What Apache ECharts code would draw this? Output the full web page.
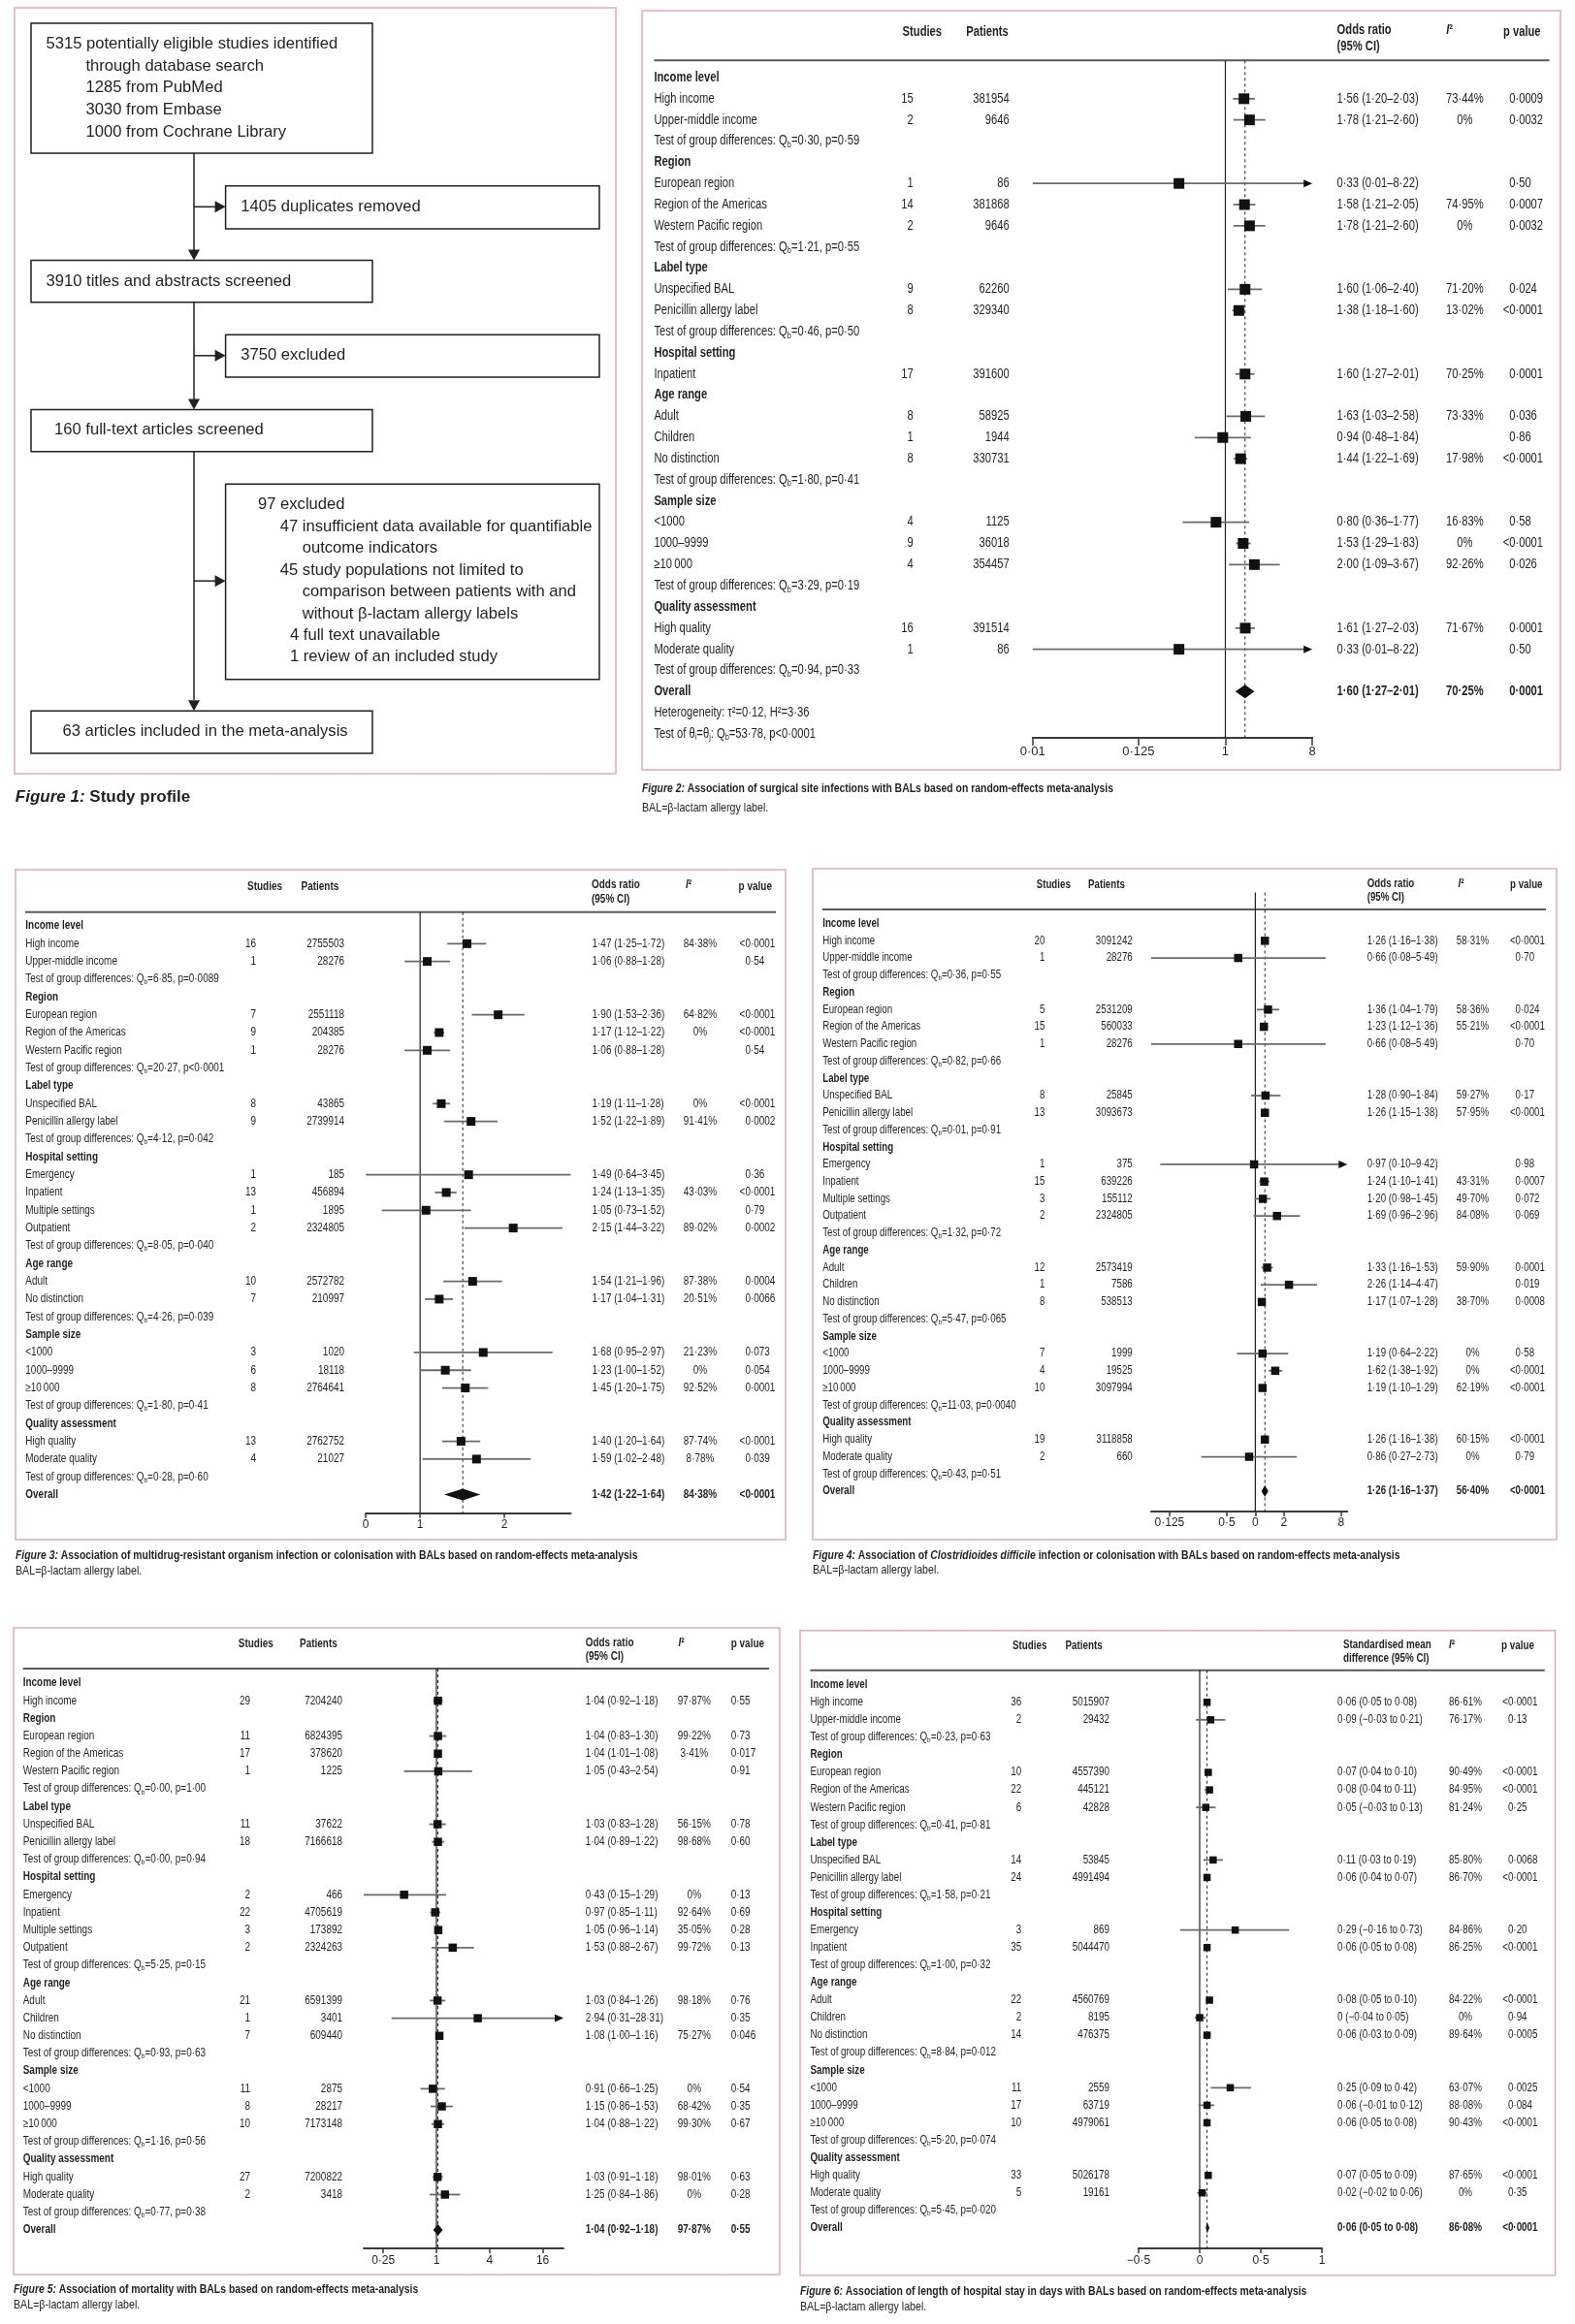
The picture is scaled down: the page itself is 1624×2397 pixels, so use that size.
<!DOCTYPE html>
<html><head><meta charset="utf-8">
<script src="https://cdn.jsdelivr.net/npm/echarts@6/dist/echarts.min.js"></script>
<style>html,body{margin:0;padding:0;background:#fff}#main{width:1624px;height:2397px}</style>
</head><body><div id="main"></div>
<script>
// ---------------- DATA ----------------
const flowTopLines = ['5315 potentially eligible studies identified', 'through database search', '1285 from PubMed', '3030 from Embase', '1000 from Cochrane Library'];
const flowSteps = ['3910 titles and abstracts screened', '160 full-text articles screened', '63 articles included in the meta-analysis'];
const flowRemoved = ['1405 duplicates removed', '3750 excluded'];
const flowExclLines = ['97 excluded', '47 insufficient data available for quantifiable', 'outcome indicators', '45 study populations not limited to', 'comparison between patients with and', 'without β-lactam allergy labels', '4 full text unavailable', '1 review of an included study'];

// row kinds: g = group heading, r = result, t = test/note text, o = overall
const fig2Rows = [
 ['g','Income level'],
 ['r','High income',15,381954,1.56,1.20,2.03,'73·44%','0·0009'],
 ['r','Upper-middle income',2,9646,1.78,1.21,2.60,'0%','0·0032'],
 ['t','Test of group differences: Q{s|b}=0·30, p=0·59'],
 ['g','Region'],
 ['r','European region',1,86,0.33,0.01,8.22,'','0·50'],
 ['r','Region of the Americas',14,381868,1.58,1.21,2.05,'74·95%','0·0007'],
 ['r','Western Pacific region',2,9646,1.78,1.21,2.60,'0%','0·0032'],
 ['t','Test of group differences: Q{s|b}=1·21, p=0·55'],
 ['g','Label type'],
 ['r','Unspecified BAL',9,62260,1.60,1.06,2.40,'71·20%','0·024'],
 ['r','Penicillin allergy label',8,329340,1.38,1.18,1.60,'13·02%','<0·0001'],
 ['t','Test of group differences: Q{s|b}=0·46, p=0·50'],
 ['g','Hospital setting'],
 ['r','Inpatient',17,391600,1.60,1.27,2.01,'70·25%','0·0001'],
 ['g','Age range'],
 ['r','Adult',8,58925,1.63,1.03,2.58,'73·33%','0·036'],
 ['r','Children',1,1944,0.94,0.48,1.84,'','0·86'],
 ['r','No distinction',8,330731,1.44,1.22,1.69,'17·98%','<0·0001'],
 ['t','Test of group differences: Q{s|b}=1·80, p=0·41'],
 ['g','Sample size'],
 ['r','<1000',4,1125,0.80,0.36,1.77,'16·83%','0·58'],
 ['r','1000–9999',9,36018,1.53,1.29,1.83,'0%','<0·0001'],
 ['r','≥10\u2009000',4,354457,2.00,1.09,3.67,'92·26%','0·026'],
 ['t','Test of group differences: Q{s|b}=3·29, p=0·19'],
 ['g','Quality assessment'],
 ['r','High quality',16,391514,1.61,1.27,2.03,'71·67%','0·0001'],
 ['r','Moderate quality',1,86,0.33,0.01,8.22,'','0·50'],
 ['t','Test of group differences: Q{s|b}=0·94, p=0·33'],
 ['o','Overall',null,null,1.60,1.27,2.01,'70·25%','0·0001'],
 ['t','Heterogeneity: τ²=0·12, H²=3·36'],
 ['t','Test of θ{s|i}=θ{s|j}: Q{s|b}=53·78, p<0·0001']
];
const fig3Rows = [
 ['g','Income level'],
 ['r','High income',16,2755503,1.47,1.25,1.72,'84·38%','<0·0001'],
 ['r','Upper-middle income',1,28276,1.06,0.88,1.28,'','0·54'],
 ['t','Test of group differences: Q{s|b}=6·85, p=0·0089'],
 ['g','Region'],
 ['r','European region',7,2551118,1.90,1.53,2.36,'64·82%','<0·0001'],
 ['r','Region of the Americas',9,204385,1.17,1.12,1.22,'0%','<0·0001'],
 ['r','Western Pacific region',1,28276,1.06,0.88,1.28,'','0·54'],
 ['t','Test of group differences: Q{s|b}=20·27, p<0·0001'],
 ['g','Label type'],
 ['r','Unspecified BAL',8,43865,1.19,1.11,1.28,'0%','<0·0001'],
 ['r','Penicillin allergy label',9,2739914,1.52,1.22,1.89,'91·41%','0·0002'],
 ['t','Test of group differences: Q{s|b}=4·12, p=0·042'],
 ['g','Hospital setting'],
 ['r','Emergency',1,185,1.49,0.64,3.45,'','0·36'],
 ['r','Inpatient',13,456894,1.24,1.13,1.35,'43·03%','<0·0001'],
 ['r','Multiple settings',1,1895,1.05,0.73,1.52,'','0·79'],
 ['r','Outpatient',2,2324805,2.15,1.44,3.22,'89·02%','0·0002'],
 ['t','Test of group differences: Q{s|b}=8·05, p=0·040'],
 ['g','Age range'],
 ['r','Adult',10,2572782,1.54,1.21,1.96,'87·38%','0·0004'],
 ['r','No distinction',7,210997,1.17,1.04,1.31,'20·51%','0·0066'],
 ['t','Test of group differences: Q{s|b}=4·26, p=0·039'],
 ['g','Sample size'],
 ['r','<1000',3,1020,1.68,0.95,2.97,'21·23%','0·073'],
 ['r','1000–9999',6,18118,1.23,1.00,1.52,'0%','0·054'],
 ['r','≥10\u2009000',8,2764641,1.45,1.20,1.75,'92·52%','0·0001'],
 ['t','Test of group differences: Q{s|b}=1·80, p=0·41'],
 ['g','Quality assessment'],
 ['r','High quality',13,2762752,1.40,1.20,1.64,'87·74%','<0·0001'],
 ['r','Moderate quality',4,21027,1.59,1.02,2.48,'8·78%','0·039'],
 ['t','Test of group differences: Q{s|b}=0·28, p=0·60'],
 ['o','Overall',null,null,1.42,1.22,1.64,'84·38%','<0·0001']
];
const fig4Rows = [
 ['g','Income level'],
 ['r','High income',20,3091242,1.26,1.16,1.38,'58·31%','<0·0001'],
 ['r','Upper-middle income',1,28276,0.66,0.08,5.49,'','0·70'],
 ['t','Test of group differences: Q{s|b}=0·36, p=0·55'],
 ['g','Region'],
 ['r','European region',5,2531209,1.36,1.04,1.79,'58·36%','0·024'],
 ['r','Region of the Americas',15,560033,1.23,1.12,1.36,'55·21%','<0·0001'],
 ['r','Western Pacific region',1,28276,0.66,0.08,5.49,'','0·70'],
 ['t','Test of group differences: Q{s|b}=0·82, p=0·66'],
 ['g','Label type'],
 ['r','Unspecified BAL',8,25845,1.28,0.90,1.84,'59·27%','0·17'],
 ['r','Penicillin allergy label',13,3093673,1.26,1.15,1.38,'57·95%','<0·0001'],
 ['t','Test of group differences: Q{s|b}=0·01, p=0·91'],
 ['g','Hospital setting'],
 ['r','Emergency',1,375,0.97,0.10,9.42,'','0·98'],
 ['r','Inpatient',15,639226,1.24,1.10,1.41,'43·31%','0·0007'],
 ['r','Multiple settings',3,155112,1.20,0.98,1.45,'49·70%','0·072'],
 ['r','Outpatient',2,2324805,1.69,0.96,2.96,'84·08%','0·069'],
 ['t','Test of group differences: Q{s|b}=1·32, p=0·72'],
 ['g','Age range'],
 ['r','Adult',12,2573419,1.33,1.16,1.53,'59·90%','0·0001'],
 ['r','Children',1,7586,2.26,1.14,4.47,'','0·019'],
 ['r','No distinction',8,538513,1.17,1.07,1.28,'38·70%','0·0008'],
 ['t','Test of group differences: Q{s|b}=5·47, p=0·065'],
 ['g','Sample size'],
 ['r','<1000',7,1999,1.19,0.64,2.22,'0%','0·58'],
 ['r','1000–9999',4,19525,1.62,1.38,1.92,'0%','<0·0001'],
 ['r','≥10\u2009000',10,3097994,1.19,1.10,1.29,'62·19%','<0·0001'],
 ['t','Test of group differences: Q{s|b}=11·03, p=0·0040'],
 ['g','Quality assessment'],
 ['r','High quality',19,3118858,1.26,1.16,1.38,'60·15%','<0·0001'],
 ['r','Moderate quality',2,660,0.86,0.27,2.73,'0%','0·79'],
 ['t','Test of group differences: Q{s|b}=0·43, p=0·51'],
 ['o','Overall',null,null,1.26,1.16,1.37,'56·40%','<0·0001']
];
const fig5Rows = [
 ['g','Income level'],
 ['r','High income',29,7204240,1.04,0.92,1.18,'97·87%','0·55'],
 ['g','Region'],
 ['r','European region',11,6824395,1.04,0.83,1.30,'99·22%','0·73'],
 ['r','Region of the Americas',17,378620,1.04,1.01,1.08,'3·41%','0·017'],
 ['r','Western Pacific region',1,1225,1.05,0.43,2.54,'','0·91'],
 ['t','Test of group differences: Q{s|b}=0·00, p=1·00'],
 ['g','Label type'],
 ['r','Unspecified BAL',11,37622,1.03,0.83,1.28,'56·15%','0·78'],
 ['r','Penicillin allergy label',18,7166618,1.04,0.89,1.22,'98·68%','0·60'],
 ['t','Test of group differences: Q{s|b}=0·00, p=0·94'],
 ['g','Hospital setting'],
 ['r','Emergency',2,466,0.43,0.15,1.29,'0%','0·13'],
 ['r','Inpatient',22,4705619,0.97,0.85,1.11,'92·64%','0·69'],
 ['r','Multiple settings',3,173892,1.05,0.96,1.14,'35·05%','0·28'],
 ['r','Outpatient',2,2324263,1.53,0.88,2.67,'99·72%','0·13'],
 ['t','Test of group differences: Q{s|b}=5·25, p=0·15'],
 ['g','Age range'],
 ['r','Adult',21,6591399,1.03,0.84,1.26,'98·18%','0·76'],
 ['r','Children',1,3401,2.94,0.31,28.31,'','0·35'],
 ['r','No distinction',7,609440,1.08,1.00,1.16,'75·27%','0·046'],
 ['t','Test of group differences: Q{s|b}=0·93, p=0·63'],
 ['g','Sample size'],
 ['r','<1000',11,2875,0.91,0.66,1.25,'0%','0·54'],
 ['r','1000–9999',8,28217,1.15,0.86,1.53,'68·42%','0·35'],
 ['r','≥10\u2009000',10,7173148,1.04,0.88,1.22,'99·30%','0·67'],
 ['t','Test of group differences: Q{s|b}=1·16, p=0·56'],
 ['g','Quality assessment'],
 ['r','High quality',27,7200822,1.03,0.91,1.18,'98·01%','0·63'],
 ['r','Moderate quality',2,3418,1.25,0.84,1.86,'0%','0·28'],
 ['t','Test of group differences: Q{s|b}=0·77, p=0·38'],
 ['o','Overall',null,null,1.04,0.92,1.18,'97·87%','0·55']
];
const fig6Rows = [
 ['g','Income level'],
 ['r','High income',36,5015907,0.06,0.05,0.08,'86·61%','<0·0001'],
 ['r','Upper-middle income',2,29432,0.09,-0.03,0.21,'76·17%','0·13'],
 ['t','Test of group differences: Q{s|b}=0·23, p=0·63'],
 ['g','Region'],
 ['r','European region',10,4557390,0.07,0.04,0.10,'90·49%','<0·0001'],
 ['r','Region of the Americas',22,445121,0.08,0.04,0.11,'84·95%','<0·0001'],
 ['r','Western Pacific region',6,42828,0.05,-0.03,0.13,'81·24%','0·25'],
 ['t','Test of group differences: Q{s|b}=0·41, p=0·81'],
 ['g','Label type'],
 ['r','Unspecified BAL',14,53845,0.11,0.03,0.19,'85·80%','0·0068'],
 ['r','Penicillin allergy label',24,4991494,0.06,0.04,0.07,'86·70%','<0·0001'],
 ['t','Test of group differences: Q{s|b}=1·58, p=0·21'],
 ['g','Hospital setting'],
 ['r','Emergency',3,869,0.29,-0.16,0.73,'84·86%','0·20'],
 ['r','Inpatient',35,5044470,0.06,0.05,0.08,'86·25%','<0·0001'],
 ['t','Test of group differences: Q{s|b}=1·00, p=0·32'],
 ['g','Age range'],
 ['r','Adult',22,4560769,0.08,0.05,0.10,'84·22%','<0·0001'],
 ['r','Children',2,8195,0,-0.04,0.05,'0%','0·94'],
 ['r','No distinction',14,476375,0.06,0.03,0.09,'89·64%','0·0005'],
 ['t','Test of group differences: Q{s|b}=8·84, p=0·012'],
 ['g','Sample size'],
 ['r','<1000',11,2559,0.25,0.09,0.42,'63·07%','0·0025'],
 ['r','1000–9999',17,63719,0.06,-0.01,0.12,'88·08%','0·084'],
 ['r','≥10\u2009000',10,4979061,0.06,0.05,0.08,'90·43%','<0·0001'],
 ['t','Test of group differences: Q{s|b}=5·20, p=0·074'],
 ['g','Quality assessment'],
 ['r','High quality',33,5026178,0.07,0.05,0.09,'87·65%','<0·0001'],
 ['r','Moderate quality',5,19161,0.02,-0.02,0.06,'0%','0·35'],
 ['t','Test of group differences: Q{s|b}=5·45, p=0·020'],
 ['o','Overall',null,null,0.06,0.05,0.08,'86·08%','<0·0001']
];

const fig2Range = [0.01, 8];
const fig2Ticks = [0.01, 0.125, 1, 8];
const fig2TickLabels = ['0·01', '0·125', '1', '8'];
const fig3Range = [0.64, 3.45];
const fig3Ticks = [0.64, 1, 2];
const fig3TickLabels = ['0', '1', '2'];
const fig4Range = [0.08, 9.3];
const fig4Ticks = [0.125, 0.5, 1, 2, 8];
const fig4TickLabels = ['0·125', '0·5', '0', '2', '8'];
const fig5Range = [0.15, 27.5];
const fig5Ticks = [0.25, 1, 4, 16];
const fig5TickLabels = ['0·25', '1', '4', '16'];
const fig6Range = [-0.5, 1];
const fig6Ticks = [-0.5, 0, 0.5, 1];
const fig6TickLabels = ['−0·5', '0', '0·5', '1'];

const fig2Caption = ['{fi|Figure 2:} Association of surgical site infections with BALs based on random-effects meta-analysis', 'BAL=β-lactam allergy label.'];
const fig3Caption = ['{fi|Figure 3:} Association of multidrug-resistant organism infection or colonisation with BALs based on random-effects meta-analysis', 'BAL=β-lactam allergy label.'];
const fig4Caption = ['{fi|Figure 4:} Association of {fi|Clostridioides difficile} infection or colonisation with BALs based on random-effects meta-analysis', 'BAL=β-lactam allergy label.'];
const fig5Caption = ['{fi|Figure 5:} Association of mortality with BALs based on random-effects meta-analysis', 'BAL=β-lactam allergy label.'];
const fig6Caption = ['{fi|Figure 6:} Association of length of hospital stay in days with BALs based on random-effects meta-analysis', 'BAL=β-lactam allergy label.'];
const fig1Caption = '{fi|Figure 1:} Study profile';

// ---------------- STYLE / LAYOUT ----------------
const INK = '#231f20';
const FONT = "'Liberation Sans', Arial, sans-serif";
const NARROW = "'Liberation Sans Narrow', 'Liberation Sans', Arial, sans-serif";
const PINK = '#e6a9b8';

// wrap plain segments of a rich string so they keep the element's font
function richify(text) {
  if (text.indexOf('{') < 0) return text;
  return text.split(/(\{[a-z]+\|[^}]*\})/).map(seg => seg === '' ? '' : (seg[0] === '{' ? seg : '{n|' + seg + '}')).join('');
}

function mkText(x, y, text, o) {
  const fs = o.fs, ff = o.ff || FONT, fw = o.fw || 'normal', fst = o.fst || 'normal';
  return {
    type: 'text', x: x, y: y, scaleX: o.sx || 1, silent: true, z: 10,
    style: {
      text: richify(text), x: 0, y: 0, fill: INK, fontFamily: ff, fontSize: fs, fontWeight: fw,
      fontStyle: fst, align: o.align || 'left', verticalAlign: 'middle',
      lineHeight: fs * 1.2,
      rich: {
        n: { fontFamily: ff, fontSize: fs, fontWeight: fw, fontStyle: fst, fill: INK, lineHeight: fs * 1.2 },
        s: { fontFamily: ff, fontSize: fs * 0.66, fontWeight: fw, fill: INK, lineHeight: fs * 0.7, verticalAlign: 'bottom' },
        it: { fontFamily: ff, fontSize: fs, fontWeight: fw, fontStyle: 'italic', fill: INK, lineHeight: fs * 1.2 },
        fi: { fontFamily: ff, fontSize: fs, fontWeight: 'bold', fontStyle: 'italic', fill: INK, lineHeight: fs * 1.2 }
      }
    }
  };
}

const figs = [
 { rows: fig2Rows, range: fig2Range, ticks: fig2Ticks, tickLabels: fig2TickLabels, log: true, smd: false, caption: fig2Caption, ciHead: ['Odds ratio', '(95% CI)'],
   L: { firstY: 80, step: 21.84, topY: 62.3, vTop: 62.3, axisY: 761, fLeft: 1064.8, fRight: 1353.2, fs: 14, sx: 0.8, sq: 11, dia: 7,
        tickFs: 13, tickMargin: 8, tickLen: 8,
        cols: { label: 674.4, studies: 941.7, patients: 1040.7, ci: 1378.6, i2: 1510.4, p: 1556.2 },
        hdr: { studies: [930.6, 32.7], patients: [996.2, 32.7], ci1: [1378.6, 30.7], ci2: [1378.6, 48.3], i2: [1491.2, 30.7], p: [1550, 32.7] },
        line: [674.4, 1597.6, 62.3], border: [662, 11, 1609, 794], cap: [662, 813, 833] } },
 { rows: fig3Rows, range: fig3Range, ticks: fig3Ticks, tickLabels: fig3TickLabels, log: true, smd: false, caption: fig3Caption, ciHead: ['Odds ratio', '(95% CI)'],
   L: { firstY: 955, step: 18.33, topY: 940.8, vTop: 940.8, axisY: 1560.7, fLeft: 377.2, fRight: 588.5, fs: 12, sx: 0.83, sq: 9, dia: 6,
        tickFs: 12, tickMargin: 6, tickLen: 5,
        cols: { label: 26.3, studies: 264, patients: 355, ci: 610.5, i2: 722, p: 768.4 },
        hdr: { studies: [255, 914.5], patients: [310.5, 914.5], ci1: [610, 913], ci2: [610, 927.6], i2: [707, 913], p: [761.6, 914.5] },
        line: [26, 800, 940.8], border: [16, 897, 810, 1588], cap: [16, 1604, 1620] } },
 { rows: fig4Rows, range: fig4Range, ticks: fig4Ticks, tickLabels: fig4TickLabels, log: true, smd: false, caption: fig4Caption, ciHead: ['Odds ratio', '(95% CI)'],
   L: { firstY: 952.6, step: 17.74, topY: 938, vTop: 920.5, axisY: 1559, fLeft: 1186.9, fRight: 1389.3, fs: 12, sx: 0.81, sq: 8.5, dia: 6,
        tickFs: 12, tickMargin: 6, tickLen: 5,
        cols: { label: 848.2, studies: 1077.4, patients: 1167.7, ci: 1409.7, i2: 1518.5, p: 1562.6 },
        hdr: { studies: [1068.7, 913], patients: [1122, 913], ci1: [1409.7, 912], ci2: [1409.7, 925.6], i2: [1503.6, 912], p: [1557, 913] },
        line: [848, 1594, 938], border: [838, 896, 1605, 1588], cap: [838, 1604, 1619] } },
 { rows: fig5Rows, range: fig5Range, ticks: fig5Ticks, tickLabels: fig5TickLabels, log: true, smd: false, caption: fig5Caption, ciHead: ['Odds ratio', '(95% CI)'],
   L: { firstY: 1736, step: 18.19, topY: 1721, vTop: 1721, axisY: 2319, fLeft: 375, fRight: 581, fs: 12, sx: 0.83, sq: 8.5, dia: 6,
        tickFs: 12, tickMargin: 6.5, tickLen: 5,
        cols: { label: 23.7, studies: 258, patients: 353, ci: 603.7, i2: 715.8, p: 753.7 },
        hdr: { studies: [245.8, 1696], patients: [309, 1696], ci1: [603.7, 1694.3], ci2: [603.7, 1709], i2: [699.5, 1694.3], p: [753.7, 1696] },
        line: [23.7, 793, 1721], border: [14, 1679, 804, 2346], cap: [14, 2361.7, 2377.7] } },
 { rows: fig6Rows, range: fig6Range, ticks: fig6Ticks, tickLabels: fig6TickLabels, log: false, smd: true, caption: fig6Caption, ciHead: ['Standardised mean', 'difference (95% CI)'],
   L: { firstY: 1737.7, step: 18.07, topY: 1722.7, vTop: 1722.7, axisY: 2319, fLeft: 1173.9, fRight: 1363.2, fs: 12, sx: 0.82, sq: 7.5, dia: 6,
        tickFs: 12, tickMargin: 6.5, tickLen: 5,
        cols: { label: 835.4, studies: 1053.3, patients: 1144, ci: 1379, i2: 1511, p: 1554.9 },
        hdr: { studies: [1044, 1698], patients: [1098.5, 1698], ci1: [1385, 1696.7], ci2: [1385, 1710.7], i2: [1494, 1696.7], p: [1548, 1698] },
        line: [835.4, 1592.8, 1722.7], border: [825, 1681.7, 1603.6, 2346.7], cap: [825, 2363, 2379] } }
];

const fmt = v => v === 0 ? '0' : (v < 0 ? '−' : '') + Math.abs(v).toFixed(2).replace('.', '·');

// ---------------- BUILD ----------------
const grids = [], xAxes = [], yAxes = [], series = [], gfx = [];

figs.forEach((f, k) => {
  const L = f.L;
  const Tf = f.log ? Math.log2 : (v => v);
  const idx = py => (py - L.firstY) / L.step;
  const yMin = idx(L.vTop), yMax = idx(L.axisY);
  const gTop = L.vTop, gH = L.axisY - L.vTop;
  const xr0 = Tf(f.range[0]), xr1 = Tf(f.range[1]);
  const gi = grids.length;
  grids.push({ left: 0, width: 1624, top: gTop, height: gH, outerBoundsMode: 'none', containLabel: false });
  grids.push({ left: L.fLeft, width: L.fRight - L.fLeft, top: gTop, height: gH, outerBoundsMode: 'none', containLabel: false });
  xAxes.push({ gridIndex: gi, type: 'value', min: 0, max: 1624, show: false });
  yAxes.push({ gridIndex: gi, type: 'value', inverse: true, min: yMin, max: yMax, show: false });
  const tickT = f.ticks.map(Tf);
  xAxes.push({
    gridIndex: gi + 1, type: 'value', min: xr0, max: xr1, position: 'bottom',
    axisLine: { show: true, onZero: false, lineStyle: { color: '#3a3a3a', width: 2 } },
    axisTick: { show: true, inside: false, length: L.tickLen, customValues: tickT, lineStyle: { color: '#3a3a3a', width: 1.5 } },
    axisLabel: {
      show: true, customValues: tickT, margin: L.tickMargin, fontSize: L.tickFs, fontFamily: NARROW, color: INK,
      formatter: v => { const j = tickT.findIndex(t => Math.abs(t - v) < 1e-6); return j >= 0 ? f.tickLabels[j] : ''; }
    },
    splitLine: { show: false }
  });
  yAxes.push({ gridIndex: gi + 1, type: 'value', inverse: true, min: yMin, max: yMax, show: false, axisLine: { onZero: false } });

  const fs = L.fs, sx = L.sx, c = L.cols;
  // table text
  series.push({
    type: 'custom', xAxisIndex: gi, yAxisIndex: gi, silent: true, z: 5, clip: false,
    data: f.rows.map((r, i) => [0, i]),
    renderItem: (params, api) => {
      const r = f.rows[params.dataIndex];
      const i = api.value(1);
      const y = api.coord([0, i])[1];
      const X = v => api.coord([v, i])[0];
      const kind = r[0];
      const bold = (kind === 'g' || kind === 'o') ? 'bold' : 'normal';
      const ch = [mkText(X(c.label), y, r[1], { fs, sx, fw: bold })];
      if (kind === 'r' || kind === 'o') {
        if (r[2] != null) ch.push(mkText(X(c.studies), y, String(r[2]), { fs, sx, align: 'right' }));
        if (r[3] != null) ch.push(mkText(X(c.patients), y, String(r[3]), { fs, sx, align: 'right' }));
        const ci = f.smd ? fmt(r[4]) + ' (' + fmt(r[5]) + ' to ' + fmt(r[6]) + ')'
                         : fmt(r[4]) + ' (' + fmt(r[5]) + '–' + fmt(r[6]) + ')';
        ch.push(mkText(X(c.ci), y, ci, { fs, sx, fw: bold }));
        if (r[7]) ch.push(mkText(X(c.i2), y, r[7], { fs, sx, fw: bold, align: 'center' }));
        const p = r[8];
        if (p) {
          if (p[0] === '<') {
            ch.push(mkText(X(c.p), y, '<', { fs, sx, fw: bold, align: 'right' }));
            ch.push(mkText(X(c.p), y, p.slice(1), { fs, sx, fw: bold }));
          } else ch.push(mkText(X(c.p), y, p, { fs, sx, fw: bold }));
        }
      }
      return { type: 'group', children: ch };
    }
  });
  // forest marks
  const fData = [];
  let overall = null;
  f.rows.forEach((r, i) => {
    if (r[0] === 'r' || r[0] === 'o') fData.push([Tf(r[4]), i, Tf(r[5]), Tf(r[6]), r[0] === 'o' ? 1 : 0]);
    if (r[0] === 'o') overall = r[4];
  });
  series.push({
    type: 'line', xAxisIndex: gi + 1, yAxisIndex: gi + 1, silent: true, z: 1, symbol: 'none', animation: false,
    data: [[Tf(f.smd ? 0 : 1), yMin], [Tf(f.smd ? 0 : 1), yMax]],
    lineStyle: { color: INK, width: 1.2 }
  });
  series.push({
    type: 'line', xAxisIndex: gi + 1, yAxisIndex: gi + 1, silent: true, z: 1, symbol: 'none', animation: false,
    data: [[Tf(overall), yMin], [Tf(overall), yMax]],
    lineStyle: { color: INK, width: 1, type: [3, 3] }
  });
  series.push({
    type: 'custom', xAxisIndex: gi + 1, yAxisIndex: gi + 1, silent: true, z: 3, clip: false,
    data: fData,
    renderItem: (params, api) => {
      const e = api.value(0), i = api.value(1), lo = api.value(2), hi = api.value(3), kind = api.value(4);
      const pE = api.coord([e, i]);
      const pL = api.coord([Math.max(lo, xr0), i]);
      const pH = api.coord([Math.min(hi, xr1), i]);
      const y = pE[1];
      if (kind === 1) {
        return { type: 'polygon', shape: { points: [[pL[0], y], [pE[0], y - L.dia], [pH[0], y], [pE[0], y + L.dia]] }, style: { fill: '#111' } };
      }
      const ch = [];
      let xa = pL[0], xb = pH[0];
      if (hi > xr1) { xb -= 8; ch.push({ type: 'polygon', shape: { points: [[pH[0], y], [pH[0] - 9, y - 4], [pH[0] - 9, y + 4]] }, style: { fill: '#111' } }); }
      if (lo < xr0) { xa += 8; ch.push({ type: 'polygon', shape: { points: [[pL[0], y], [pL[0] + 9, y - 4], [pL[0] + 9, y + 4]] }, style: { fill: '#111' } }); }
      ch.unshift({ type: 'line', shape: { x1: xa, y1: y, x2: xb, y2: y }, style: { stroke: '#6a6a6a', lineWidth: 1.8 } });
      const s = L.sq;
      ch.push({ type: 'rect', shape: { x: pE[0] - s / 2, y: y - s / 2, width: s, height: s }, style: { fill: '#111' } });
      return { type: 'group', children: ch };
    }
  });

  // decorations: border, header, header line, caption
  const b = L.border;
  gfx.push({ type: 'rect', silent: true, z: 0, shape: { x: b[0], y: b[1], width: b[2] - b[0], height: b[3] - b[1] }, style: { fill: 'none', stroke: PINK, lineWidth: 1.5 } });
  const h = L.hdr;
  gfx.push(mkText(h.studies[0], h.studies[1], 'Studies', { fs, sx, fw: 'bold' }));
  gfx.push(mkText(h.patients[0], h.patients[1], 'Patients', { fs, sx, fw: 'bold' }));
  gfx.push(mkText(h.ci1[0], h.ci1[1], f.ciHead[0], { fs, sx, fw: 'bold' }));
  gfx.push(mkText(h.ci2[0], h.ci2[1], f.ciHead[1], { fs, sx, fw: 'bold' }));
  gfx.push(mkText(h.i2[0], h.i2[1], '{it|I}²', { fs, sx, fw: 'bold' }));
  gfx.push(mkText(h.p[0], h.p[1], 'p value', { fs, sx, fw: 'bold' }));
  gfx.push({ type: 'line', silent: true, shape: { x1: L.line[0], y1: L.line[2], x2: L.line[1], y2: L.line[2] }, style: { stroke: '#5a5a5a', lineWidth: 2 } });
  gfx.push(mkText(L.cap[0], L.cap[1], f.caption[0], { fs: 13, sx: 0.8, fw: 'bold' }));
  gfx.push(mkText(L.cap[0], L.cap[2], f.caption[1], { fs: 13, sx: 0.82 }));
});

// Figure 1 flow chart
(function () {
  const S = { stroke: INK, lineWidth: 1.5 };
  const box = (x, y, w, h) => gfx.push({ type: 'rect', silent: true, shape: { x, y, width: w, height: h }, style: { fill: '#fff', stroke: INK, lineWidth: 1.5 } });
  const ln = (x1, y1, x2, y2) => gfx.push({ type: 'line', silent: true, shape: { x1, y1, x2, y2 }, style: S });
  const aDown = (x, y) => gfx.push({ type: 'polygon', silent: true, shape: { points: [[x - 6, y - 11], [x + 6, y - 11], [x, y]] }, style: { fill: INK } });
  const aRight = (x, y) => gfx.push({ type: 'polygon', silent: true, shape: { points: [[x - 11, y - 6], [x - 11, y + 6], [x, y]] }, style: { fill: INK } });
  const FS = 16.6;
  gfx.push({ type: 'rect', silent: true, shape: { x: 15, y: 8, width: 620, height: 790 }, style: { fill: 'none', stroke: PINK, lineWidth: 1.5 } });
  box(32, 24, 352, 134);
  box(232.6, 191.7, 385.4, 44.3);
  box(32, 268.5, 352, 43.2);
  box(232.6, 345.2, 385.4, 43.8);
  box(32, 422.5, 352, 43.2);
  box(232.6, 499.2, 385.4, 201.6);
  box(32, 733.2, 352, 43.8);
  ln(200, 158, 200, 258); aDown(200, 268.5);
  ln(200, 311.7, 200, 412); aDown(200, 422.5);
  ln(200, 465.7, 200, 722); aDown(200, 733.2);
  [213.3, 366.8, 599.2].forEach(y => { ln(200, y, 222, y); aRight(232.6, y); });
  const topPos = [[47.5, 45.8], [88.5, 68.5], [88.5, 90.7], [88.5, 113.4], [88.5, 136]];
  flowTopLines.forEach((t, i) => gfx.push(mkText(topPos[i][0], topPos[i][1], t, { fs: FS })));
  const stepPos = [[47.5, 290], [56, 443], [64.4, 754.8]];
  flowSteps.forEach((t, i) => gfx.push(mkText(stepPos[i][0], stepPos[i][1], t, { fs: FS })));
  const remPos = [[248.3, 213.3], [248.3, 366.8]];
  flowRemoved.forEach((t, i) => gfx.push(mkText(remPos[i][0], remPos[i][1], t, { fs: FS })));
  const exPos = [[266, 520.8], [288.8, 543.5], [311.7, 565.7], [288.8, 588.4], [311.7, 610.5], [311.7, 633.2], [299, 655.4], [299, 677.5]];
  flowExclLines.forEach((t, i) => gfx.push(mkText(exPos[i][0], exPos[i][1], t, { fs: FS })));
  gfx.push(mkText(15.8, 822.4, fig1Caption, { fs: 17, fw: 'bold' }));
})();

const chart = echarts.init(document.getElementById('main'), null, { renderer: 'canvas', width: 1624, height: 2397 });
chart.setOption({
  animation: false,
  backgroundColor: '#fff',
  grid: grids,
  xAxis: xAxes,
  yAxis: yAxes,
  series: series,
  graphic: { elements: gfx }
});
</script></body></html>
